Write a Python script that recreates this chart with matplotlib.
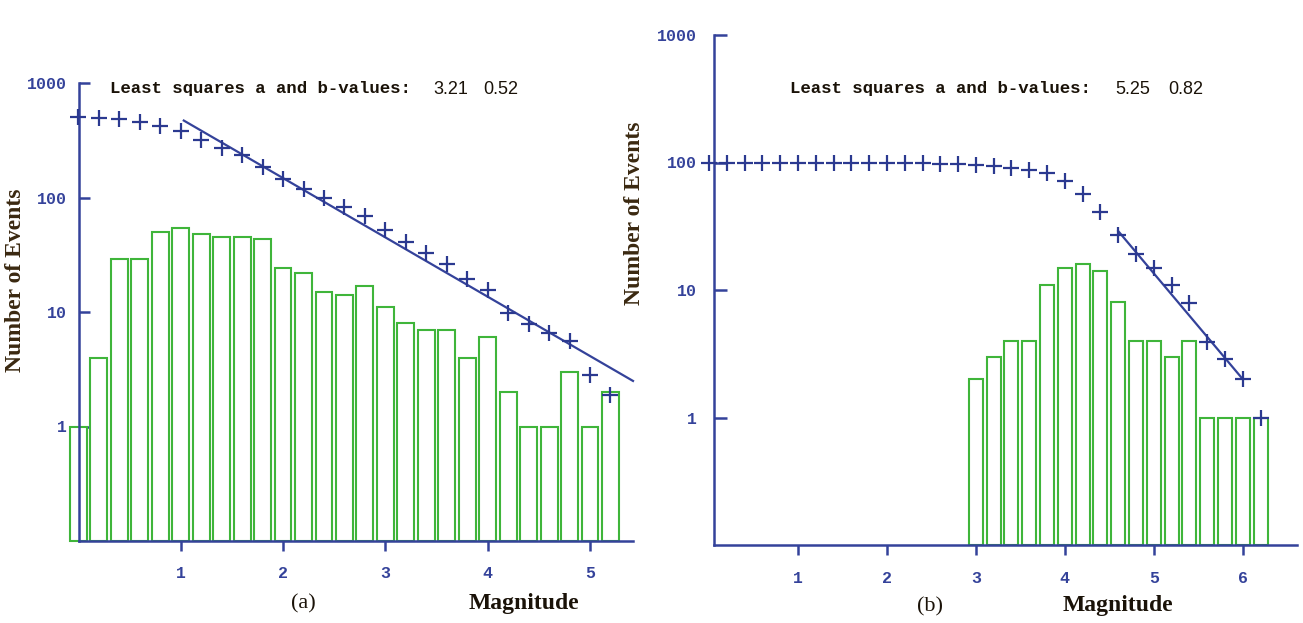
import matplotlib
matplotlib.use("Agg")
from matplotlib import pyplot as plt

# panel (a): magnitude bins, counts per bin (bars) and cumulative counts (+)
mag_a = [0.0, 0.2, 0.4, 0.6, 0.8, 1.0, 1.2, 1.4, 1.6, 1.8, 2.0, 2.2, 2.4, 2.6,
         2.8, 3.0, 3.2, 3.4, 3.6, 3.8, 4.0, 4.2, 4.4, 4.6, 4.8, 5.0, 5.2]
count_a = [1, 4, 29, 29, 50, 54, 48, 45, 45, 43, 24, 22, 15, 14,
           17, 11, 8, 7, 7, 4, 6, 2, 1, 1, 3, 1, 2]
cum_a = [500, 495, 485, 455, 420, 380, 320, 270, 233, 186, 145, 119, 99, 82,
         69, 52, 41, 33, 26, 19.5, 15.5, 9.8, 7.8, 6.6, 5.6, 2.8, 1.9]
fit_a_m = [1.03, 5.42]
fit_a_n = [470, 2.5]
ab_a = ["3.21", "0.52"]

# panel (b)
mag_b_bins = [3.0, 3.2, 3.4, 3.6, 3.8, 4.0, 4.2, 4.4, 4.6, 4.8, 5.0, 5.2,
              5.4, 5.6, 5.8, 6.0, 6.2]
count_b = [2, 3, 4, 4, 11, 15, 16, 14, 8, 4, 4, 3, 4, 1, 1, 1, 1]
mag_b = [0.0, 0.2, 0.4, 0.6, 0.8, 1.0, 1.2, 1.4, 1.6, 1.8, 2.0, 2.2, 2.4, 2.6,
         2.8, 3.0, 3.2, 3.4, 3.6, 3.8, 4.0, 4.2, 4.4, 4.6, 4.8, 5.0, 5.2, 5.4,
         5.6, 5.8, 6.0, 6.2]
cum_b = [100, 100, 100, 100, 100, 100, 100, 100, 100, 99, 99, 99, 99, 98,
         98, 96, 94, 91, 87, 83, 72, 57, 41, 27, 19, 15, 11, 7.9,
         3.9, 2.9, 2.0, 1.0]
fit_b_m = [4.6, 6.0]
fit_b_n = [29, 2.0]
ab_b = ["5.25", "0.82"]

W, H = 1303, 623
BLUE = "#34429a"
CROSS = "#2b3990"
GREEN = "#3fb53a"
BROWN = "#3a2810"

fig = plt.figure(figsize=(W / 100, H / 100), dpi=100)
fig.patch.set_facecolor("white")

axL = fig.add_axes([79 / W, 1 - 541 / H, (633 - 79) / W, (541 - 83) / H])
axR = fig.add_axes([714 / W, 1 - 545 / H, (1297 - 714) / W, (545 - 35) / H])


def setup(ax, xlim, xticks, ypad, xpad, ylen):
    ax.set_yscale("log")
    ax.set_ylim(0.1, 1000)
    ax.set_xlim(*xlim)
    for s in ["top", "right"]:
        ax.spines[s].set_visible(False)
    for s in ["left", "bottom"]:
        ax.spines[s].set_color(BLUE)
        ax.spines[s].set_linewidth(1.8)
    ax.set_yticks([1, 10, 100, 1000])
    ax.set_yticklabels(["1", "10", "100", "1000"])
    ax.yaxis.set_minor_locator(matplotlib.ticker.NullLocator())
    ax.set_xticks(xticks)
    ax.set_xticklabels([str(t) for t in xticks])
    ax.tick_params(axis="y", direction="in", length=ylen, width=1.8,
                   colors=BLUE, pad=ypad)
    ax.tick_params(axis="x", direction="out", length=7, width=1.8,
                   colors=BLUE, pad=xpad)
    for lab in ax.get_xticklabels() + ax.get_yticklabels():
        lab.set_fontfamily("Liberation Mono")
        lab.set_fontweight("bold")
        lab.set_fontsize(12)
        lab.set_color(BLUE)
    ax.patch.set_alpha(0)


setup(axL, (0.006, 5.42), [1, 2, 3, 4, 5], 8.6, 11, 8)
setup(axR, (0.056, 6.61), [1, 2, 3, 4, 5, 6], 12, 12, 9.5)

# bars drawn from the bottom of the axis
axL.bar(mag_a, [c - 0.1 for c in count_a], bottom=0.1, width=0.165,
        facecolor="white", edgecolor=GREEN, linewidth=1.5, clip_on=False, zorder=2)
axR.bar(mag_b_bins, [c - 0.1 for c in count_b], bottom=0.1, width=0.158,
        facecolor="white", edgecolor=GREEN, linewidth=1.5, clip_on=False, zorder=2)

axL.plot(mag_a, cum_a, "+", color=CROSS, markersize=11, markeredgewidth=1.6,
         clip_on=False, zorder=4)
axR.plot(mag_b, cum_b, "+", color=CROSS, markersize=11, markeredgewidth=1.6,
         clip_on=False, zorder=4)
axL.plot(fit_a_m, fit_a_n, color=BLUE, linewidth=1.6, clip_on=False, zorder=3)
axR.plot(fit_b_m, fit_b_n, color=BLUE, linewidth=1.6, clip_on=False, zorder=3)

# annotation text
for x0, xa, xb, ab in [(110, 433, 483, ab_a), (790, 1115, 1168, ab_b)]:
    fig.text(x0 / W, 1 - 88 / H, "Least squares a and b-values:",
             family="Liberation Mono", weight="bold", fontsize=12.5,
             color="#1a1208", va="center", ha="left")
    fig.text(xa / W, 1 - 89 / H, ab[0], family="Liberation Sans", fontsize=13,
             color="#1a1208", va="center", ha="left")
    fig.text(xb / W, 1 - 89 / H, ab[1], family="Liberation Sans", fontsize=13,
             color="#1a1208", va="center", ha="left")

# axis labels
for x, y in [(16, 280), (635, 213)]:
    fig.text(x / W, 1 - y / H, "Number of Events", family="Liberation Serif",
             weight="bold", fontsize=17, color=BROWN, rotation=90,
             va="center", ha="center")
for x, y in [(524, 604), (1118, 606)]:
    fig.text(x / W, 1 - y / H, "Magnitude", family="Liberation Serif",
             weight="bold", fontsize=17, color="#1a1208", va="center", ha="center")
fig.text(303 / W, 1 - 604 / H, "(a)", family="Liberation Serif", fontsize=16,
         color="#1a1208", va="center", ha="center")
fig.text(930 / W, 1 - 607 / H, "(b)", family="Liberation Serif", fontsize=16,
         color="#1a1208", va="center", ha="center")

plt.savefig("out.png", dpi=100)
